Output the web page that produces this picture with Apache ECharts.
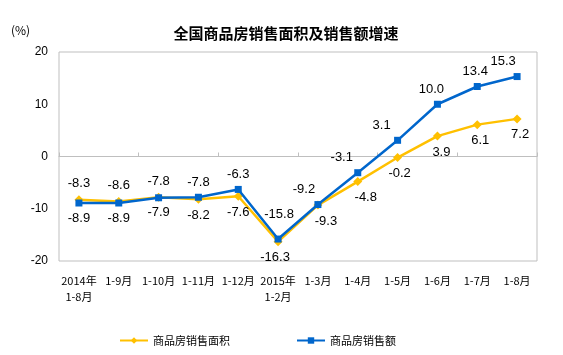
<!DOCTYPE html>
<html>
<head>
<meta charset="utf-8">
<script src="https://cdn.jsdelivr.net/npm/echarts@6/dist/echarts.min.js"></script>
<style>html,body{margin:0;padding:0;background:#fff;}#c{width:563px;height:355px;}</style>
</head>
<body>
<div id="c"></div>
<script>
const categories = ['2014年\n1-8月','1-9月','1-10月','1-11月','1-12月','2015年\n1-2月','1-3月','1-4月','1-5月','1-6月','1-7月','1-8月'];
const areaGrowth = [-8.3, -8.6, -7.8, -8.2, -7.6, -16.3, -9.3, -4.8, -0.2, 3.9, 6.1, 7.2];
const salesGrowth = [-8.9, -8.9, -7.9, -7.8, -6.3, -15.8, -9.2, -3.1, 3.1, 10.0, 13.4, 15.3];
const yTicks = [-20, -10, 0, 10, 20];
const seriesNames = ['商品房销售面积', '商品房销售额'];

// label styling (not data)
const blueOff = [[0,0],[0,0],[0,0],[0,0],[0,0],[1,-10],[-14,0],[-16,0],[-16,0],[-6,0],[-2,0],[-14,0]];
const yellowOff = [[0,0],[0,0],[0,0],[0,0],[0,0],[-3,0],[8,0],[8,0],[2,0],[4,0],[3,0],[3,0]];

const chart = echarts.init(document.getElementById('c'));
const yellow = '#FFC000', blue = '#0066CC';
const font = 'Liberation Sans, Arial, sans-serif';
const cjk = 'Noto Sans CJK SC, sans-serif';

function build(vals, other, offs) {
  return vals.map((v, i) => ({
    value: v,
    label: {
      position: v >= other[i] ? 'top' : 'bottom',
      offset: offs[i]
    }
  }));
}

chart.setOption({
  animation: false,
  title: {
    text: '全国商品房销售面积及销售额增速',
    left: 281, top: 21, textAlign: 'center',
    textStyle: { fontFamily: cjk, fontSize: 15, fontWeight: 'bold', color: '#000' }
  },
  graphic: [{
    type: 'text', left: 11, top: 24,
    style: { text: '(%)', font: '12px ' + cjk, fill: '#000' }
  }],
  grid: { left: 59, right: 26, top: 52, bottom: 94, show: true, borderColor: '#BFBFBF', borderWidth: 1 },
  legend: {
    left: 114, top: 330, itemWidth: 28, itemHeight: 8, itemGap: 66,
    textStyle: { fontFamily: cjk, fontSize: 11, color: '#000' },
    data: seriesNames
  },
  xAxis: [{
    type: 'category', data: categories, boundaryGap: true,
    axisLine: { onZero: true, lineStyle: { color: '#BFBFBF', width: 1 } },
    axisTick: { show: true, inside: true, length: 4, lineStyle: { color: '#BFBFBF' } },
    axisLabel: { show: false }
  }, {
    type: 'category', data: categories, position: 'bottom', boundaryGap: true,
    axisLine: { show: false, onZero: false }, axisTick: { show: false },
    axisLabel: { show: true, margin: 12, interval: 0, fontFamily: cjk, fontSize: 11, color: '#000', lineHeight: 16 }
  }],
  yAxis: {
    type: 'value', min: yTicks[0], max: yTicks[yTicks.length - 1], interval: 10,
    axisLine: { show: false }, axisTick: { show: false }, splitLine: { show: false },
    axisLabel: { margin: 11, fontFamily: font, fontSize: 12, color: '#000' }
  },
  series: [{
    name: seriesNames[0], type: 'line', xAxisIndex: 0,
    data: build(areaGrowth, salesGrowth, yellowOff),
    symbol: 'diamond', symbolSize: 9,
    lineStyle: { color: yellow, width: 2.5 }, itemStyle: { color: yellow },
    label: { show: true, distance: 5, fontFamily: font, fontSize: 13, color: '#000',
      formatter: p => p.value.toFixed(1) },
    z: 2
  }, {
    name: seriesNames[1], type: 'line', xAxisIndex: 0,
    data: build(salesGrowth, areaGrowth, blueOff),
    symbol: 'rect', symbolSize: 7,
    lineStyle: { color: blue, width: 2.5 }, itemStyle: { color: blue },
    label: { show: true, distance: 5, fontFamily: font, fontSize: 13, color: '#000',
      formatter: p => p.value.toFixed(1) },
    z: 3
  }]
});
</script>
</body>
</html>
